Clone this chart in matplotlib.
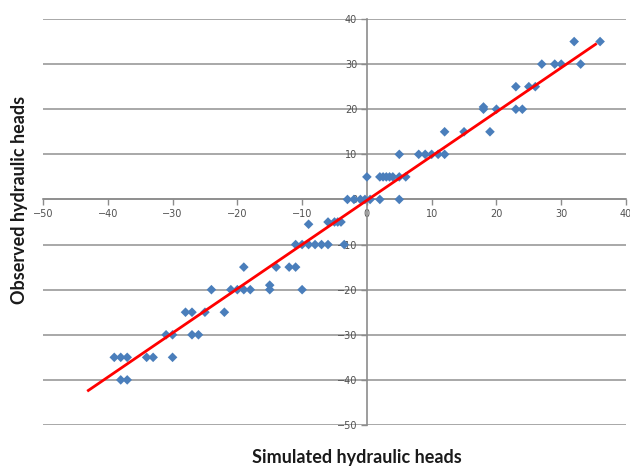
import matplotlib
matplotlib.use("Agg")
import matplotlib.pyplot as plt
import numpy as np

# Simulated (x) vs observed (y) hydraulic heads
sim_x = [-3, -2, -1, -0.3, 0.5, 2, 5,
         0, 2, 2.5, 3, 3.5, 4, 5, 6,
         5, 8, 9, 10, 11, 12,
         12, 15, 19,
         18, 18, 20, 23, 24,
         23, 25, 26,
         27, 29, 30, 33,
         32, 36,
         -9, -6, -5, -4.5, -4,
         -11, -10, -9, -8, -7, -6, -3.5,
         -19, -14, -12, -11,
         -24, -21, -20, -19, -18, -15, -15, -10,
         -28, -27, -25, -22,
         -31, -30, -27, -26,
         -39, -38, -37, -34, -33, -30,
         -38, -37]
obs_y = [0, 0, 0, 0, 0, 0, 0,
         5, 5, 5, 5, 5, 5, 5, 5,
         10, 10, 10, 10, 10, 10,
         15, 15, 15,
         20.5, 20, 20, 20, 20,
         25, 25, 25,
         30, 30, 30, 30,
         35, 35,
         -5.5, -5, -5, -5, -5,
         -10, -10, -10, -10, -10, -10, -10,
         -15, -15, -15, -15,
         -20, -20, -20, -20, -20, -20, -19, -20,
         -25, -25, -25, -25,
         -30, -30, -30, -30,
         -35, -35, -35, -35, -35, -35,
         -40, -40]

# Linear trend line (slope, intercept) and its x extent
trend_slope = 0.98
trend_intercept = -0.2
trend_x = [-43, 35.3]

x_ticks = [-50, -40, -30, -20, -10, 0, 10, 20, 30, 40]
y_ticks = [-50, -40, -30, -20, -10, 0, 10, 20, 30, 40]

fig = plt.figure(figsize=(6.30, 4.67), dpi=100)
ax = fig.add_axes([43/630, 1-425/467, (626-43)/630, (425-19)/467])

ax.set_xlim(-50, 40)
ax.set_ylim(-50, 40)

for yv in y_ticks:
    ax.axhline(yv, color="#a8a8a8", lw=1.4, zorder=0)

for s in ["top", "right"]:
    ax.spines[s].set_visible(False)
ax.spines["left"].set_position(("data", 0))
ax.spines["bottom"].set_position(("data", 0))
for s in ["left", "bottom"]:
    ax.spines[s].set_color("#8c8c8c")
    ax.spines[s].set_linewidth(1.2)

ax.set_xticks(x_ticks)
ax.set_yticks(y_ticks)
ax.tick_params(axis="both", direction="out", length=4, width=1.0,
               color="#8c8c8c", labelsize=7, labelcolor="#505050", pad=3)

ax.scatter(sim_x, obs_y, marker="D", s=24, color="#4a7ebb", edgecolors="none",
           zorder=3, clip_on=False)

tx = np.array(trend_x)
ax.plot(tx, trend_slope * tx + trend_intercept, color="#ff0000", lw=2, zorder=4)

fig.text(357/630, 1-458/467, "Simulated hydraulic heads", ha="center", va="center",
         fontsize=13, fontweight="bold", family="Lato", color="#1a1a1a")
fig.text(20/630, 1-200/467, "Observed hydraulic heads", ha="center", va="center",
         rotation=90, fontsize=13, fontweight="bold", family="Lato", color="#1a1a1a")

fig.savefig("out.png", dpi=100, facecolor="white")
